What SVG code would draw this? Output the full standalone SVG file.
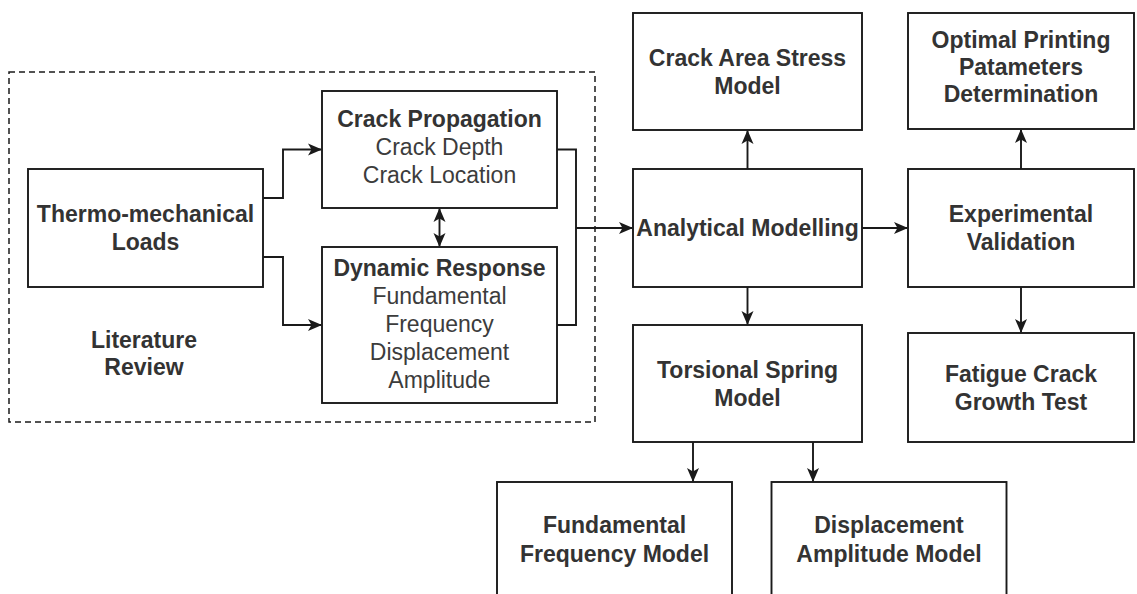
<svg xmlns="http://www.w3.org/2000/svg" width="1137" height="594" viewBox="0 0 1137 594">
  <defs>
    <style>
      .box { fill: #ffffff; stroke: #1a1a1a; stroke-width: 1.9; }
      .group { fill: none; stroke: #1a1a1a; stroke-width: 1.5; stroke-dasharray: 6 4; }
      .link { fill: none; stroke: #1a1a1a; stroke-width: 1.9; }
      .t { font-family: "Liberation Sans", Arial, sans-serif; font-size: 23px; text-anchor: middle; }
      .b { font-weight: bold; fill: #333333; }
      .r { font-weight: normal; fill: #3c3c3c; }
    </style>
    <marker id="arrow" viewBox="0 0 14 13" refX="13" refY="6.5" markerWidth="14" markerHeight="13" markerUnits="userSpaceOnUse" orient="auto-start-reverse">
      <path d="M0,0.5 L14,6.5 L0,12.5 L3.5,6.5 z" fill="#1a1a1a"/>
    </marker>
  </defs>

  <rect x="0" y="0" width="1137" height="594" fill="#ffffff"/>

  <!-- literature review grouping -->
  <g id="literature-review">
    <rect class="group" x="9" y="72" width="586" height="350"/>
    <text class="t b" x="144" y="348">Literature</text>
    <text class="t b" x="144" y="375">Review</text>
  </g>

  <g id="thermo-mechanical-loads">
    <rect class="box" x="28" y="169" width="235" height="118"/>
    <text class="t b" x="145.5" y="222">Thermo-mechanical</text>
    <text class="t b" x="145.5" y="250">Loads</text>
  </g>

  <g id="crack-propagation">
    <rect class="box" x="322" y="91" width="235" height="117"/>
    <text class="t b" x="439.5" y="127">Crack Propagation</text>
    <text class="t r" x="439.5" y="155">Crack Depth</text>
    <text class="t r" x="439.5" y="183">Crack Location</text>
  </g>

  <g id="dynamic-response">
    <rect class="box" x="322" y="247" width="235" height="156"/>
    <text class="t b" x="439.5" y="276">Dynamic Response</text>
    <text class="t r" x="439.5" y="304">Fundamental</text>
    <text class="t r" x="439.5" y="332">Frequency</text>
    <text class="t r" x="439.5" y="360">Displacement</text>
    <text class="t r" x="439.5" y="388">Amplitude</text>
  </g>

  <g id="crack-area-stress-model">
    <rect class="box" x="633" y="13" width="229" height="117"/>
    <text class="t b" x="747.5" y="66">Crack Area Stress</text>
    <text class="t b" x="747.5" y="94">Model</text>
  </g>

  <g id="analytical-modelling">
    <rect class="box" x="633" y="169" width="229" height="118"/>
    <text class="t b" x="747.5" y="236">Analytical Modelling</text>
  </g>

  <g id="torsional-spring-model">
    <rect class="box" x="633" y="325" width="229" height="117"/>
    <text class="t b" x="747.5" y="378">Torsional Spring</text>
    <text class="t b" x="747.5" y="406">Model</text>
  </g>

  <g id="optimal-printing">
    <rect class="box" x="908" y="13" width="226" height="116"/>
    <text class="t b" x="1021" y="48">Optimal Printing</text>
    <text class="t b" x="1021" y="75">Patameters</text>
    <text class="t b" x="1021" y="102">Determination</text>
  </g>

  <g id="experimental-validation">
    <rect class="box" x="908" y="169" width="226" height="118"/>
    <text class="t b" x="1021" y="222">Experimental</text>
    <text class="t b" x="1021" y="250">Validation</text>
  </g>

  <g id="fatigue-crack-growth-test">
    <rect class="box" x="908" y="333" width="226" height="109"/>
    <text class="t b" x="1021" y="382">Fatigue Crack</text>
    <text class="t b" x="1021" y="410">Growth Test</text>
  </g>

  <g id="fundamental-frequency-model">
    <rect class="box" x="497" y="482" width="235" height="118"/>
    <text class="t b" x="614.5" y="533">Fundamental</text>
    <text class="t b" x="614.5" y="562">Frequency Model</text>
  </g>

  <g id="displacement-amplitude-model">
    <rect class="box" x="771.5" y="482" width="235" height="118"/>
    <text class="t b" x="889" y="533">Displacement</text>
    <text class="t b" x="889" y="562">Amplitude Model</text>
  </g>

  <!-- connectors -->
  <g id="connectors">
    <path class="link" d="M263,198 H283 V149.5 H321" marker-end="url(#arrow)"/>
    <path class="link" d="M263,257 H283 V325 H321" marker-end="url(#arrow)"/>
    <path class="link" d="M439.5,209 V246" marker-start="url(#arrow)" marker-end="url(#arrow)"/>
    <path class="link" d="M557,149.5 H576 V325 H557"/>
    <path class="link" d="M576,228 H632" marker-end="url(#arrow)"/>
    <path class="link" d="M747.5,169 V131" marker-end="url(#arrow)"/>
    <path class="link" d="M862,228 H907" marker-end="url(#arrow)"/>
    <path class="link" d="M747.5,287 V324" marker-end="url(#arrow)"/>
    <path class="link" d="M1021,169 V130" marker-end="url(#arrow)"/>
    <path class="link" d="M1021,287 V332" marker-end="url(#arrow)"/>
    <path class="link" d="M693,442 V481" marker-end="url(#arrow)"/>
    <path class="link" d="M813,442 V481" marker-end="url(#arrow)"/>
  </g>
</svg>
